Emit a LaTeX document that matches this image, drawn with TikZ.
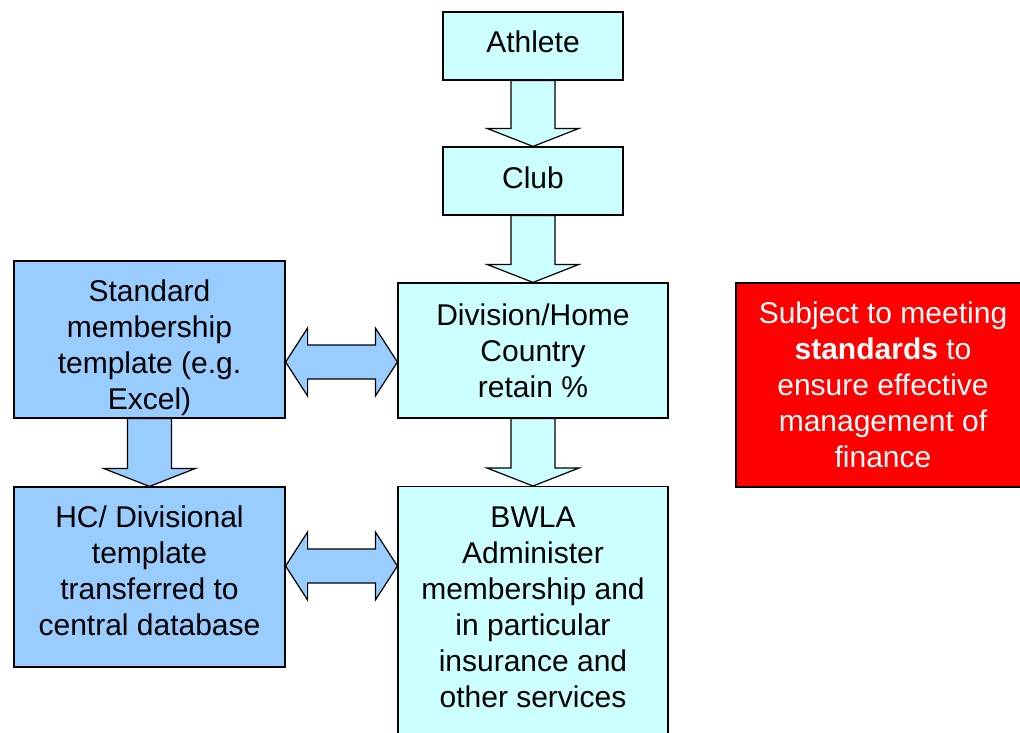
\documentclass[tikz,border=0pt]{standalone}
\usepackage{fontspec}
\setmainfont{Liberation Sans}
\usetikzlibrary{calc}
\definecolor{paleaqua}{HTML}{CCFFFF}
\definecolor{skyblue}{HTML}{99CCFF}
\definecolor{alertred}{HTML}{FF0000}
\tikzset{
  flowbox/.style={draw=black, line width=1.2pt, rectangle, align=center,
    font=\fontsize{30}{36}\selectfont, inner sep=6pt},
  aquabox/.style={flowbox, fill=paleaqua},
  bluebox/.style={flowbox, fill=skyblue},
  notebox/.style={flowbox, fill=alertred, text=white},
  blockarrow/.style={draw=black, line width=1.2pt, line join=miter}
}
\newcommand{\downblock}[3]{%
  \draw[blockarrow, fill=#3] ($(#1.south)+(-22,0)$) -- ($(#2.north)+(-22,18)$)
    -- ++(-24,0) -- (#2.north) -- ++(46,18) -- ++(-24,0)
    -- ($(#1.south)+(22,0)$) -- cycle;}
\newcommand{\twowayblock}[2]{%
  \draw[blockarrow, fill=skyblue] (#1) -- ++(22,34) -- ++(0,-17)
    -- ($(#2)+(-22,17)$) -- ++(0,17) -- (#2) -- ++(-22,-34) -- ++(0,17)
    -- ($(#1)+(22,-17)$) -- ++(0,-17) -- cycle;}
\newcommand{\padbelow}[1]{\rule[-#1pt]{0pt}{#1pt}}
\begin{document}
\begin{tikzpicture}[x=1pt, y=1pt]
  \useasboundingbox (0,0) rectangle (1020,-732);
  \clip (0,0) rectangle (1020,-732);
  \path
    (533,-46) node[aquabox, minimum width=180, minimum height=68] (athlete)
      {Athlete\padbelow{8}}
    (533,-181) node[aquabox, minimum width=180, minimum height=68] (club)
      {Club\padbelow{6}}
    (533,-350.5) node[aquabox, minimum width=270, minimum height=135] (division)
      {Division/Home\\Country\\retain \%}
    (533,-486) node[aquabox, anchor=north, minimum width=270, inner ysep=20] (bwla)
      {BWLA\\Administer\\membership and\\in particular\\insurance and\\other services\padbelow{10}}
    (149.5,-339.5) node[bluebox, minimum width=271, minimum height=157, inner ysep=0pt] (standard)
      {\rule{0pt}{38pt}Standard\\membership\\template (e.g.\\Excel)}
    (149.5,-577) node[bluebox, minimum width=271, minimum height=180] (hc)
      {HC/ Divisional\\template\\transferred to\\central database\padbelow{12}}
    (883,-385) node[notebox, minimum width=294, minimum height=204] (note)
      {Subject to meeting\\\textbf{standards} to\\ensure effective\\management of\\finance};
  \coordinate (linkA) at ($(standard.east)+(0,-22.5)$);
  \coordinate (linkB) at ($(hc.east)+(0,11)$);
  \begin{scope}
    \downblock{athlete}{club}{paleaqua}
    \downblock{club}{division}{paleaqua}
    \downblock{division}{bwla}{paleaqua}
    \downblock{standard}{hc}{skyblue}
    \twowayblock{linkA}{division.west |- linkA}
    \twowayblock{linkB}{bwla.west |- linkB}
  \end{scope}
\end{tikzpicture}
\end{document}
